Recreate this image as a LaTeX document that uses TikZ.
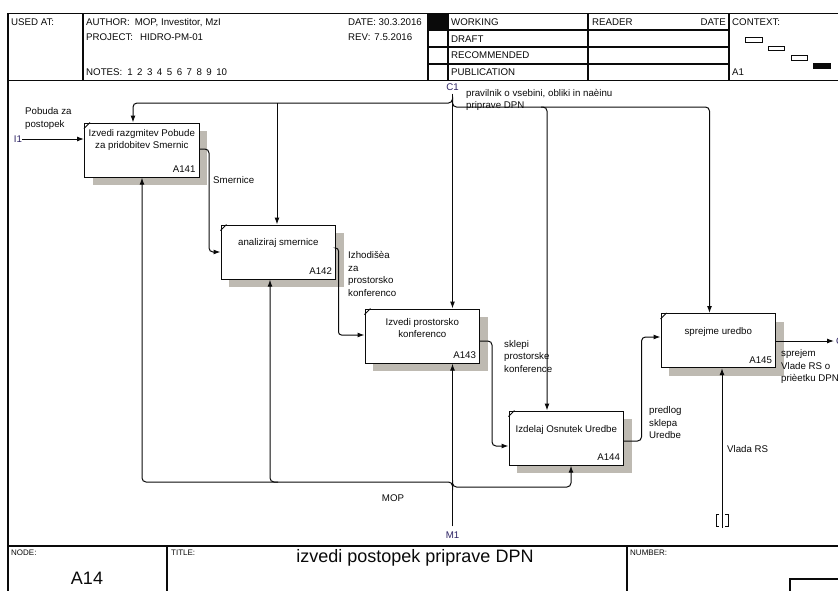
\documentclass[tikz,border=0pt]{standalone}
\usepackage{fontspec}
\setmainfont{Liberation Sans}
\usetikzlibrary{arrows.meta,shadows}
\definecolor{shade}{RGB}{190,186,178}
\definecolor{ink}{RGB}{10,10,10}
\definecolor{tagc}{RGB}{45,35,100}
\newcommand\lblfont{\fontsize{9.7}{12.5}\selectfont}
\newcommand\smallhdr{\fontsize{8}{9}\selectfont}
\newcommand\bigfont{\fontsize{18}{20}\selectfont}

\begin{document}
\begin{tikzpicture}[x=1pt,y=-1pt,
  frame/.style={draw=ink, line width=1.4pt},
  thinline/.style={draw=ink, line width=1pt},
  txt/.style={font=\lblfont, text=ink, inner sep=0pt, align=left},
  hdr/.style={font=\lblfont, text=ink, inner sep=0pt, anchor=base west},
  actbox/.style={draw=ink, line width=1.15pt, fill=white, anchor=north west,
    minimum width=114.5pt, minimum height=54pt, inner sep=0pt,
    drop shadow={shadow xshift=8pt, shadow yshift=-8pt, fill=shade, opacity=1}},
  acttext/.style={font=\lblfont, text=ink, align=center, inner sep=0pt},
  actcode/.style={font=\lblfont, text=ink, inner sep=0pt, anchor=base east},
  arr/.style={draw=ink, line width=1pt, rounded corners=4pt, -{Latex[length=7pt,width=5pt]}},
  tag/.style={font=\lblfont, text=tagc, inner sep=0pt}
]
\useasboundingbox (0,0) rectangle (838,590);
\fill[white] (0,0) rectangle (838,590);

% ---------- sheet frame ----------
\draw[frame] (845,13.5) -- (8,13.5) -- (8,600);
\draw[frame] (8,80.5) -- (845,80.5);
\draw[frame] (8,546) -- (845,546);
\foreach \x in {83,428,448,588,729} \draw[frame] (\x,13.5) -- (\x,80.5);
\foreach \y in {30,47,64} \draw[frame] (428,\y) -- (729,\y);
\fill[ink] (428,13.5) rectangle (448,30);
\draw[frame] (167,546) -- (167,600);
\draw[frame] (627,546) -- (627,600);
\draw[frame] (790,600) -- (790,579) -- (845,579);

% context thumbnails
\draw[thinline] (745,37) rectangle (762,42);
\draw[thinline] (768,46) rectangle (784,50);
\draw[thinline] (791,55) rectangle (807,60);
\fill[ink] (813,63) rectangle (831,69);

% ---------- header text ----------
\node[hdr] (usedat) at (11,25) {USED AT:};
\node[hdr] (author) at (86,25) {AUTHOR:\hspace{5pt}MOP, Investitor, MzI};
\node[hdr] (project) at (86,40.5) {PROJECT:\hspace{7pt}HIDRO-PM-01};
\node[hdr] (notes) at (86,75.5) {NOTES:\hspace{5pt}1\hspace{4.5pt}2\hspace{4.5pt}3\hspace{4.5pt}4\hspace{4.5pt}5\hspace{4.5pt}6\hspace{4.5pt}7\hspace{4.5pt}8\hspace{4.5pt}9\hspace{4.5pt}10};
\node[hdr] (date) at (348,25) {DATE: 30.3.2016};
\node[hdr] (rev) at (348,40.5) {REV:\hspace{4pt}7.5.2016};
\node[hdr] (working) at (451,25) {WORKING};
\node[hdr] (draft) at (451,42) {DRAFT};
\node[hdr] (recom) at (451,58.5) {RECOMMENDED};
\node[hdr] (publ) at (451,75.5) {PUBLICATION};
\node[hdr] (reader) at (592,25) {READER};
\node[hdr, anchor=base east] (rdate) at (726,25) {DATE};
\node[hdr] (context) at (732,25) {CONTEXT:};
\node[hdr] (ctxnode) at (732,75.5) {A1};

% ---------- footer text ----------
\node[font=\smallhdr, text=ink, inner sep=0pt, anchor=base west] (nodelbl) at (11,555) {NODE:};
\node[font=\smallhdr, text=ink, inner sep=0pt, anchor=base west] (titlelbl) at (171,555) {TITLE:};
\node[font=\smallhdr, text=ink, inner sep=0pt, anchor=base west] (numlbl) at (630,555) {NUMBER:};
\node[font=\bigfont, text=ink, inner sep=0pt] (nodeid) at (87,578) {A14};
\node[font=\bigfont, text=ink, inner sep=0pt] (title) at (415,558) {izvedi postopek priprave DPN};

% ---------- activity boxes ----------
\node[actbox] (a141) at (84,122.5) {};
\node[actbox] (a142) at (220.5,224.5) {};
\node[actbox] (a143) at (364.5,308.5) {};
\node[actbox] (a144) at (508.5,410.5) {};
\node[actbox] (a145) at (660.5,313) {};

\foreach \b in {a141,a142,a143,a144,a145}
  \draw[draw=ink, line width=0.9pt] ([yshift=-6pt]\b.north west) -- ([xshift=6pt]\b.north west);

\node[acttext] (a141t) at ([yshift=-17.5pt]a141.north) {Izvedi razgmitev Pobude\\za pridobitev Smernic};
\node[acttext] (a142t) at ([yshift=-18.5pt]a142.north) {analiziraj smernice};
\node[acttext] (a143t) at ([yshift=-19.5pt]a143.north) {Izvedi prostorsko\\konferenco};
\node[acttext] (a144t) at ([yshift=-19.5pt]a144.north) {Izdelaj Osnutek Uredbe};
\node[acttext] (a145t) at ([yshift=-18.5pt]a145.north) {sprejme uredbo};

\node[actcode] (a141c) at ([shift={(-4pt,5pt)}]a141.south east) {A141};
\node[actcode] (a142c) at ([shift={(-4pt,5pt)}]a142.south east) {A142};
\node[actcode] (a143c) at ([shift={(-4pt,5pt)}]a143.south east) {A143};
\node[actcode] (a144c) at ([shift={(-4pt,5pt)}]a144.south east) {A144};
\node[actcode] (a145c) at ([shift={(-4pt,5pt)}]a145.south east) {A145};

% ---------- boundary tags ----------
\node[tag] (i1) at (18,139) {I1};
\node[tag] (c1) at (452.5,87) {C1};
\node[tag] (m1) at (452.5,535) {M1};
\node[tag, anchor=west] (o1) at (836,341) {O1};
\coordinate (vl) at (722,528);

% ---------- input ----------
\draw[arr] (i1.east) -- (a141.west |- i1.east);
\node[txt, anchor=north west] (pobuda) at (25,107.4) {Pobuda za\\postopek};

% ---------- controls ----------
\draw[arr] ([yshift=-3pt]c1.south) -- (a143.north -| c1.south);
\draw[arr] ([yshift=-6pt]c1.south) |- (133,103) -- (a141.north -| 133,0);
\draw[arr] (277,103) -- (a142.north -| 277,0);
\draw[arr] ([yshift=-8pt]c1.south) |- (547,107) -- (a144.north -| 547,0);
\draw[arr] (541,107) -- (709.5,107) -- (a145.north -| 709.5,0);
\node[txt, anchor=north west] (pravilnik) at (466,89.4) {pravilnik o vsebini, obliki in naèinu\\[-1pt]priprave DPN};

% ---------- outputs between activities ----------
\draw[arr] (a141.east |- 0,149) -- (209,149) -- (209,252) -- (a142.west |- 0,252);
\node[txt, anchor=north west] (smernice) at (213,176.4) {Smernice};

\draw[arr, rounded corners=3pt] (a142.east |- 0,248) -- (338.5,248) -- (338.5,335) -- (a143.west |- 0,335);
\node[txt, anchor=north west] (izhodisca) at (348,251.4) {Izhodišèa\\za\\prostorsko\\konferenco};

\draw[arr] (a143.east |- 0,341) -- (492,341) -- (492,446) -- (a144.west |- 0,446);
\node[txt, anchor=north west] (sklepi) at (504,339.9) {sklepi\\prostorske\\konference};

\draw[arr] (a144.east |- 0,441) -- (641.5,441) -- (641.5,337) -- (a145.west |- 0,337);
\node[txt, anchor=north west] (predlog) at (649,406.4) {predlog\\sklepa\\Uredbe};

\draw[arr] (a145.east |- 0,341) -- ([xshift=-2pt]o1.west);
\node[txt, anchor=north west] (sprejem) at (781,349.4) {sprejem\\Vlade RS o\\prièetku DPN};

% ---------- mechanisms ----------
\draw[arr] ([yshift=5pt]m1.north) -- (a143.south -| m1.north);
\draw[arr] (452.5,490) |- (142,482) -- (a141.south -| 142,0);
\draw[arr] (278,482) -| (a142.south -| 270,0);
\draw[arr] (452.5,480) |- (571,487) -- (a144.south -| 571,0);
\node[txt] (mop) at (393,498) {MOP};

\draw[arr] (vl) -- (a145.south -| vl);
\node[txt, anchor=north west] (vlada) at (727,445.4) {Vlada RS};
% tunnel brackets on the Vlada RS arrow
\draw[thinline] (719,514) -- (716,514) -- (716,526) -- (719,526);
\draw[thinline] (725,514) -- (728,514) -- (728,526) -- (725,526);

\end{tikzpicture}
\end{document}
